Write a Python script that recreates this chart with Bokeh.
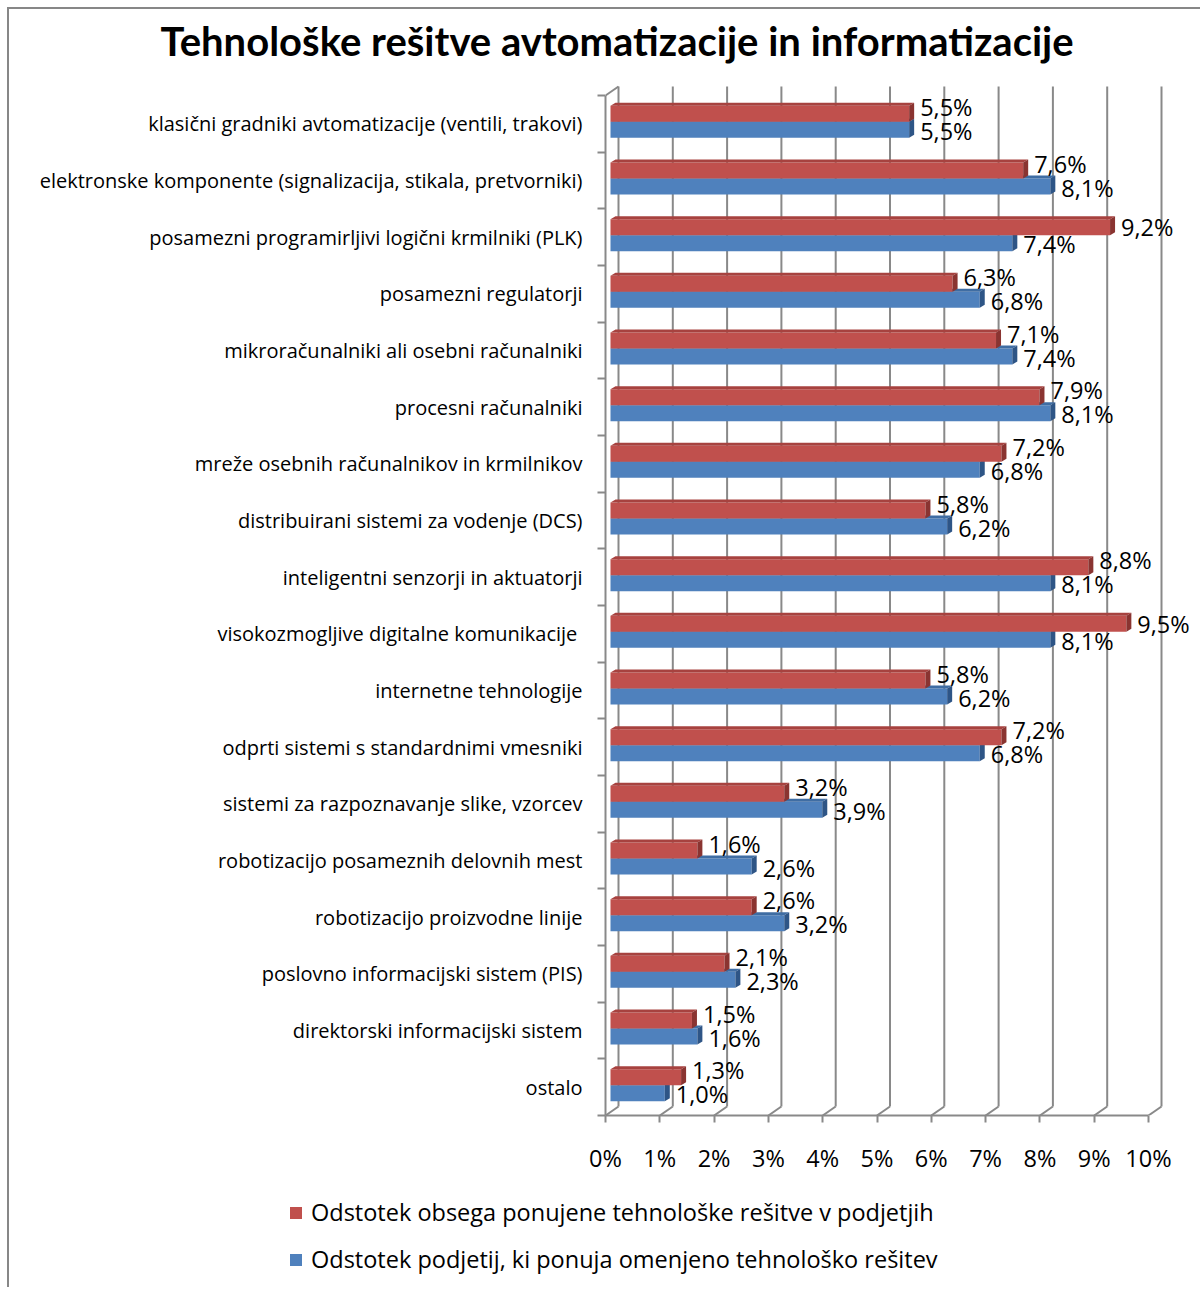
from bokeh.plotting import figure
from bokeh.models import Range1d, FixedTicker, Legend, LegendItem, Title
from bokeh.core.properties import value
from bokeh.embed import file_html
from bokeh.resources import INLINE

# ---------------- data ----------------
title_text = "Tehnološke rešitve avtomatizacije in informatizacije"
categories = [
    "klasični gradniki avtomatizacije (ventili, trakovi)",
    "elektronske komponente (signalizacija, stikala, pretvorniki)",
    "posamezni programirljivi logični krmilniki (PLK)",
    "posamezni regulatorji",
    "mikroračunalniki ali osebni računalniki",
    "procesni računalniki",
    "mreže osebnih računalnikov in krmilnikov",
    "distribuirani sistemi za vodenje (DCS)",
    "inteligentni senzorji in aktuatorji",
    "visokozmogljive digitalne komunikacije ",
    "internetne tehnologije",
    "odprti sistemi s standardnimi vmesniki",
    "sistemi za razpoznavanje slike, vzorcev",
    "robotizacijo posameznih delovnih mest",
    "robotizacijo proizvodne linije",
    "poslovno informacijski sistem (PIS)",
    "direktorski informacijski sistem",
    "ostalo",
]
obseg = [5.5, 7.6, 9.2, 6.3, 7.1, 7.9, 7.2, 5.8, 8.8, 9.5, 5.8, 7.2, 3.2, 1.6, 2.6, 2.1, 1.5, 1.3]
podjetja = [5.5, 8.1, 7.4, 6.8, 7.4, 8.1, 6.8, 6.2, 8.1, 8.1, 6.2, 6.8, 3.9, 2.6, 3.2, 2.3, 1.6, 1.0]
series_names = [
    "Odstotek obsega ponujene tehnološke rešitve v podjetjih",
    "Odstotek podjetij, ki ponuja omenjeno tehnološko rešitev",
]
x_ticks = [0, 1, 2, 3, 4, 5, 6, 7, 8, 9, 10]
x_tick_labels = ["0%", "1%", "2%", "3%", "4%", "5%", "6%", "7%", "8%", "9%", "10%"]

# ---------------- geometry (pixels) ----------------
OX, OY = 9, 9
W = 1193
SPLIT_Y = 1180          # page y where chart figure ends and legend strip begins
H1 = SPLIT_Y - OY
H2 = 1289 - SPLIT_Y
FL, FR, FT, FB = 605, OX + W, 84, 1115
PX_PCT = 54.3
N = len(categories)
PX_CAT = (FB - 95) / N
ux = 1.0 / PX_PCT
uy = 1.0 / PX_CAT

FONT = "Open Sans"
TFONT = "Lato"
GRID = "#898989"
BORDER = "#878787"
RED, RED_TOP, RED_SIDE = "#C0504D", "#A7423F", "#8A3431"
BLUE, BLUE_TOP, BLUE_SIDE = "#4F81BD", "#3F6DA3", "#2E5586"

p = figure(width=W, height=H1, output_backend="svg", toolbar_location=None,
           x_range=Range1d(0, (FR - FL) / PX_PCT), y_range=Range1d(0, (FB - FT) / PX_CAT),
           min_border_left=FL - OX, min_border_right=OX + W - FR,
           min_border_top=FT - OY, min_border_bottom=SPLIT_Y - FB)
p.styles = {"margin-left": "7px", "margin-top": "7px",
            "border-left": f"2px solid {BORDER}", "border-top": f"2px solid {BORDER}"}
p.outline_line_color = None
p.xgrid.visible = False
p.ygrid.visible = False
p.background_fill_color = "white"
p.border_fill_color = "white"

p.title.text = title_text
p.title.align = "left"
p.title.offset = 160 - FL
p.title.text_font = TFONT
p.title.text_font_style = "bold"
p.title.text_font_size = "40px"
p.title.text_color = "black"
p.title.standoff = 4
# thin spacer between the title and the plot area
p.add_layout(Title(text=" ", text_font_size="1px", standoff=15), "above")

# ---------------- walls / gridlines ----------------
dxw, dyw = 13 * ux, 9 * uy
p.segment(x0=[k + dxw for k in x_ticks], y0=[dyw] * len(x_ticks),
          x1=[k + dxw for k in x_ticks], y1=[N + dyw] * len(x_ticks),
          line_color=GRID, line_width=2)
p.segment(x0=list(x_ticks), y0=[0] * len(x_ticks),
          x1=[k + dxw for k in x_ticks], y1=[dyw] * len(x_ticks),
          line_color=GRID, line_width=2)
p.segment(x0=[0], y0=[N], x1=[dxw], y1=[N + dyw], line_color=GRID, line_width=2)

# ---------------- bars ----------------
bx0 = 5 * ux
ddx, ddy = 5 * ux, 3 * uy
bh = 16 * uy
centers = [N - 0.5 - i for i in range(N)]
splits = [c + 2.0 * uy for c in centers]


def draw_series(vals, bottoms, col, col_top, col_side):
    tops = [b + bh for b in bottoms]
    ends = [bx0 + v for v in vals]
    p.quad(left=[bx0] * N, right=ends, bottom=bottoms, top=tops,
           fill_color=col, line_color=None)
    p.patches(xs=[[bx0, e, e + ddx, bx0 + ddx] for e in ends],
              ys=[[t, t, t + ddy, t + ddy] for t in tops],
              fill_color=col_top, line_color=None)
    p.patches(xs=[[e, e, e + ddx, e + ddx] for e in ends],
              ys=[[b, t, t + ddy, b + ddy] for b, t in zip(bottoms, tops)],
              fill_color=col_side, line_color=None)


draw_series(podjetja, [s - bh for s in splits], BLUE, BLUE_TOP, BLUE_SIDE)
draw_series(obseg, splits, RED, RED_TOP, RED_SIDE)

# ---------------- value labels ----------------
LBL_GAP = 11 * ux
LBL_W = 54 * ux


def fmt(v):
    return f"{v:.1f}".replace(".", ",") + "%"


red_off = [-7 if (r - b) < LBL_W else 0 for r, b in zip(obseg, podjetja)]
p.text(x=[bx0 + v + LBL_GAP for v in obseg], y=[s + bh / 2 for s in splits],
       text=[fmt(v) for v in obseg], y_offset=red_off,
       text_font=value(FONT), text_font_size="23.5px", text_color="black",
       text_baseline="middle", text_align="left")
p.text(x=[bx0 + v + LBL_GAP for v in podjetja], y=[s - bh / 2 for s in splits],
       text=[fmt(v) for v in podjetja], y_offset=[1] * N,
       text_font=value(FONT), text_font_size="23.5px", text_color="black",
       text_baseline="middle", text_align="left")

# ---------------- axes ----------------
xa = p.xaxis[0]
xa.ticker = FixedTicker(ticks=x_ticks, minor_ticks=[])
xa.major_label_overrides = {k: s for k, s in zip(x_ticks, x_tick_labels)}
xa.bounds = (0, 10)
xa.axis_line_color = GRID
xa.axis_line_width = 2
xa.major_tick_line_color = GRID
xa.major_tick_line_width = 2
xa.major_tick_in = 0
xa.major_tick_out = 7
xa.minor_tick_line_color = None
xa.major_label_standoff = 19
xa.major_label_text_font = FONT
xa.major_label_text_font_size = "23.5px"
xa.major_label_text_color = "black"

ya = p.yaxis[0]
ya.ticker = FixedTicker(ticks=centers, minor_ticks=list(range(N + 1)))
ya.major_label_overrides = {c: name for c, name in zip(centers, categories)}
ya.bounds = (0, N)
ya.axis_line_color = GRID
ya.axis_line_width = 2
ya.major_tick_line_color = None
ya.major_tick_in = 0
ya.major_tick_out = 0
ya.minor_tick_line_color = GRID
ya.minor_tick_line_width = 2
ya.minor_tick_in = 0
ya.minor_tick_out = 8
ya.major_label_standoff = 15
ya.major_label_text_font = FONT
ya.major_label_text_font_size = "20px"
ya.major_label_text_color = "black"

# ---------------- legend (separate strip below the chart) ----------------
lf = figure(width=W, height=H2, output_backend="svg", toolbar_location=None,
            x_axis_type=None, y_axis_type=None, x_range=Range1d(0, 1), y_range=Range1d(0, 1),
            min_border=0)
lf.styles = {"margin-left": "7px", "border-left": f"2px solid {BORDER}"}
lf.outline_line_color = None
lf.xgrid.visible = False
lf.ygrid.visible = False
nan = float("nan")
lr_red = lf.quad(left=[nan], right=[nan], bottom=[nan], top=[nan], fill_color=RED, line_color=None)
lr_blue = lf.quad(left=[nan], right=[nan], bottom=[nan], top=[nan], fill_color=BLUE, line_color=None)
legend = Legend(items=[LegendItem(label=series_names[0], renderers=[lr_red]),
                       LegendItem(label=series_names[1], renderers=[lr_blue])],
                location=(288 - OX, 12), orientation="vertical",
                glyph_width=15, glyph_height=15, label_standoff=8, label_height=22,
                spacing=15, padding=0, margin=0,
                border_line_color=None, background_fill_alpha=0,
                label_text_font=FONT, label_text_font_size="23.5px", label_text_color="black")
lf.add_layout(legend)

open("out.html", "w").write(file_html([p, lf], INLINE))
